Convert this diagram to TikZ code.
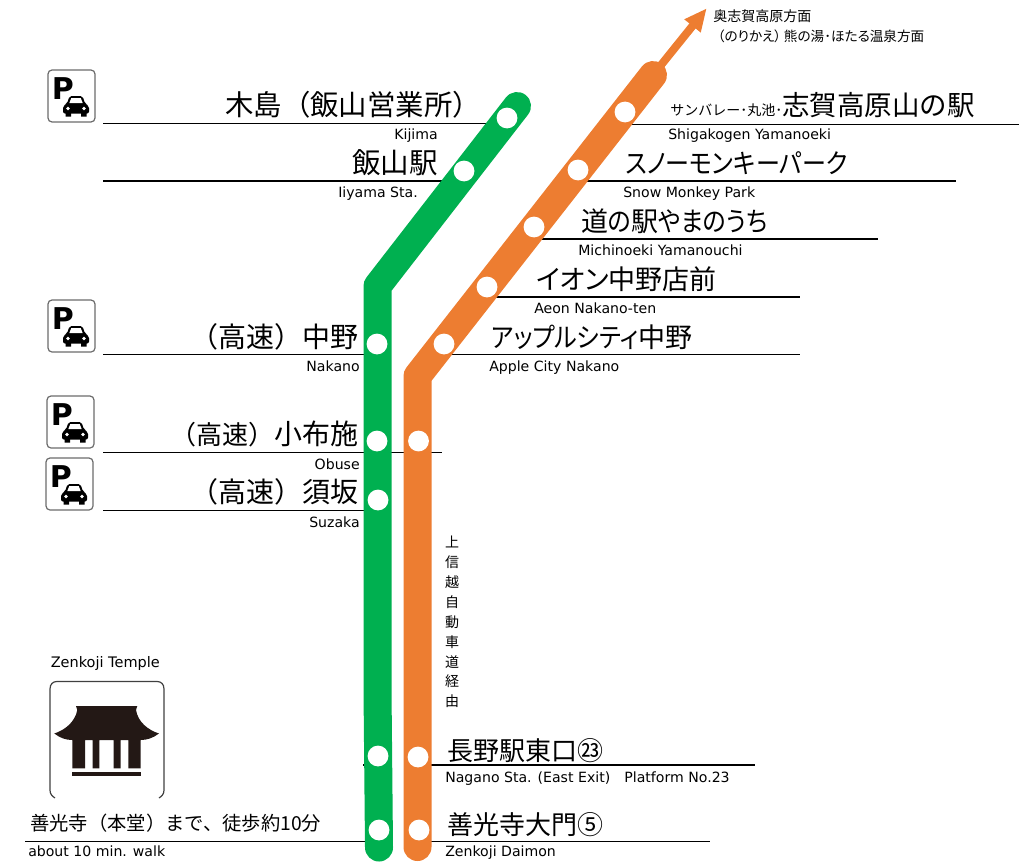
\documentclass[tikz,border=0pt]{standalone}
\usepackage{fontspec}
\setmainfont{DejaVu Sans}
\newfontfamily\jpf{Noto Sans CJK JP}
\newfontfamily\jpp[RawFeature=+palt]{Noto Sans CJK JP}
\newfontfamily\jpn[RawFeature=+palt,FakeStretch=0.89]{Noto Sans CJK JP}
\newfontfamily\latf{DejaVu Sans}
\newfontfamily\boldf{DejaVu Sans}
\usetikzlibrary{arrows.meta}
\newcommand{\pxfont}[1]{\fontsize{\dimexpr#1pt*3/4\relax}{\dimexpr#1pt*9/10\relax}\selectfont}
\definecolor{grn}{HTML}{00B050}
\definecolor{org}{HTML}{ED7D31}
\definecolor{tmp}{HTML}{231815}
\tikzset{
  x=0.75pt,y=-0.75pt,
  rule/.style={draw=black,line width=0.75pt},
  rulebold/.style={draw=black,line width=1.4pt},
  route/.style={line width=21pt,line cap=round,line join=round},
  stop/.style={circle,fill=white,draw=none,minimum size=15.6pt,inner sep=0pt},
  big/.style={inner sep=0pt,font={\jpf\pxfont{28}}},
  kana/.style={inner sep=0pt,font={\jpn\pxfont{27}}},
  mid/.style={inner sep=0pt,font={\jpf\pxfont{26}}},
  small/.style={inner sep=0pt,font={\jpf\pxfont{14}}},
  en/.style={inner sep=0pt,font={\latf\pxfont{14.1}}},
  pic border/.style={draw=gray!85!black,line width=0.9pt,fill=white,rounded corners=3pt},
  pics/parking/.style={code={
    \draw[pic border] (0,0) rectangle (47,52);
    \node[inner sep=0pt,anchor=base west,font={\boldf\bfseries\pxfont{30}}] at (3.5,29) {P};
    \fill[black,rounded corners=1.5pt] (15,43.5) -- (15,36) -- (19,33.5) -- (21.5,26) -- (34.5,26) -- (37,33.5) -- (41,36) -- (41,43.5) -- cycle;
    \fill[black] (17.5,42) rectangle (23,46.5) (33,42) rectangle (38.5,46.5);
    \fill[white] (21.3,33) -- (23.3,28) -- (32.7,28) -- (34.7,33) -- cycle;
    \fill[white] (20,38.5) circle (1.9) (36,38.5) circle (1.9);
  }},
}
\begin{document}
\begin{tikzpicture}
\useasboundingbox (0,0) rectangle (1019,867);

% rules
\draw[rule] (103,123.5) -- (500,123.5);
\draw[rule] (630,124) -- (1019,124);
\draw[rulebold] (103,181) -- (455,181);
\draw[rulebold] (575,181) -- (956,181);
\draw[rulebold] (530,239) -- (878,239);
\draw[rulebold] (485,297) -- (800,297);
\draw[rule] (103,354.5) -- (370,354.5);
\draw[rule] (440,354.5) -- (800,354.5);
\draw[rule] (103,452) -- (442,452);
\draw[rule] (103,510) -- (370,510);
\draw[rulebold] (363,765) -- (370,765);
\draw[rulebold] (420,765) -- (755,765);
\draw[rule] (25,841) -- (370,841);
\draw[rule] (420,841) -- (710,841);

% routes
\coordinate (gTop) at (517,106);
\coordinate (gBend) at (377.5,286);
\coordinate (gMid) at (377.5,690);
\coordinate (gEnd) at (379,847.5);
\coordinate (oTop) at (653,75);
\coordinate (oBend) at (417.5,376);
\coordinate (oEnd) at (417.5,847);
\coordinate (oTip) at (706.7,8.3);
\draw[org,line width=6pt,-{Triangle[length=17pt,width=14.5pt]}] (oTop) -- (oTip);
\draw[route,grn] (gTop) -- (gBend) -- (gMid) -- (gEnd);
\draw[route,org] (oTop) -- (oBend) -- (oEnd);

% stops
\node[stop] (g1) at (507,118) {};
\node[stop] (g2) at (464,171) {};
\node[stop] (g3) at (377,344) {};
\node[stop] (g4) at (377,441) {};
\node[stop] (g5) at (378,500) {};
\node[stop] (g6) at (378,756) {};
\node[stop] (g7) at (379,830) {};
\node[stop] (o1) at (625,112) {};
\node[stop] (o2) at (578,170) {};
\node[stop] (o3) at (534,227) {};
\node[stop] (o4) at (487,287) {};
\node[stop] (o5) at (444,344) {};
\node[stop] (o6) at (418.5,441) {};
\node[stop] (o7) at (418,757) {};
\node[stop] (o8) at (419,830) {};

% labels, green side
\node[inner sep=0pt,font={\jpf\pxfont{28.4}},anchor=base west] (tKijima) at (225,115) {木島（飯山営業所）};
\node[en,anchor=base east] (eKijima) at (438,139) {Kijima};
\node[inner sep=0pt,font={\jpf\pxfont{28.5}},anchor=base east] (tIiyama) at (438,173) {飯山駅};
\node[en,anchor=base west] (eIiyama) at (338,197) {Iiyama Sta.};
\node[big,anchor=base east] (tNakano) at (359,347) {（高速）中野};
\node[en,anchor=base east] (eNakano) at (360,371) {Nakano};
\node[anchor=base east,inner sep=0pt] (tObuse) at (359,444) {\jpf\pxfont{26}（高速）\pxfont{28}小布施};
\node[en,anchor=base east] (eObuse) at (360,469) {Obuse};
\node[big,anchor=base east] (tSuzaka) at (359,502) {（高速）須坂};
\node[en,anchor=base east] (eSuzaka) at (360,527) {Suzaka};

% labels, orange side
\node[small,anchor=base west] (tDir1) at (713,22) {奥志賀高原方面};
\node[anchor=base west,inner sep=0pt,font={\jpp\pxfont{13.6}}] (tDir2) at (717.5,41) {（のりかえ）\hspace{2pt}熊の湯･ほたる温泉方面};
\node[anchor=base west,inner sep=0pt] (tShiga) at (670,115) {\jpf\pxfont{14}サンバレー･丸池･\pxfont{27.5}志賀高原山の駅};
\node[en,anchor=base west] (eShiga) at (668,139) {Shigakogen Yamanoeki};
\node[kana,anchor=base west] (tSnow) at (625,173) {スノーモンキーパーク};
\node[en,anchor=base west] (eSnow) at (623,197) {Snow Monkey Park};
\node[kana,anchor=base west] (tMichi) at (581,231) {{\jpf 道}の{\jpf 駅}やまのうち};
\node[en,anchor=base west] (eMichi) at (578,255) {Michinoeki Yamanouchi};
\node[inner sep=0pt,font={\jpp\pxfont{27}},anchor=base west] (tAeon) at (536,289) {イオン中野店前};
\node[en,anchor=base west] (eAeon) at (534,313) {Aeon Nakano-ten};
\node[kana,anchor=base west] (tApple) at (491,347) {アップルシティ{\jpf 中野}};
\node[en,anchor=base west] (eApple) at (489,371) {Apple City Nakano};
\node[inner sep=0pt,align=center,font={\jpf\fontsize{10.5pt}{14.9pt}\selectfont},anchor=north] (tVia) at (452,536) {上\\信\\越\\自\\動\\車\\道\\経\\由};
\node[mid,anchor=base west] (tNagano) at (447,760) {長野駅東口㉓};
\node[en,anchor=base west] (eNagano) at (445,782) {Nagano Sta. (East Exit)\hspace{1em}Platform No.23};
\node[mid,anchor=base west] (tDaimon) at (447,834) {善光寺大門⑤};
\node[en,anchor=base west] (eDaimon) at (445,856) {Zenkoji Daimon};

% temple
\node[inner sep=0pt,font={\latf\pxfont{14.5}},anchor=base west] (eTemple) at (50.5,667) {Zenkoji Temple};
\draw[draw=black!75,line width=0.9pt] (55,798) .. controls (52,796) and (50,794) .. (50,790) -- (50,689) .. controls (50,684) and (53,681.5) .. (57,681.5) -- (157,681.5) .. controls (161,681.5) and (164,684) .. (164,689) -- (164,790) .. controls (164,794) and (162,796) .. (159,798);
\fill[tmp] (76,706) -- (137.3,706) -- (136,710) .. controls (138,722) and (148,730) .. (159,733.5) .. controls (153,738) and (147,740) .. (140.7,740) -- (140.7,768.3) -- (128.3,768.3) -- (128.3,740) -- (120.7,740) -- (120.7,768.3) -- (113.7,768.3) -- (113.7,740) -- (99.3,740) -- (99.3,768.3) -- (92.7,768.3) -- (92.7,740) -- (85,740) -- (85,768.3) -- (72.3,768.3) -- (72.3,740) .. controls (66,740) and (60,738) .. (54.3,733.5) .. controls (65,730) and (75,722) .. (77.3,710) -- cycle;
\fill[tmp] (72.3,772.3) rectangle (140.7,776);
\node[anchor=base west,inner sep=0pt,font={\jpf\pxfont{19.3}}] (tWalk) at (30,830) {善光寺（本堂）まで、徒歩約10分};
\node[en,anchor=base west] (eWalk) at (28,856) {about 10 min. walk};

% parking icons
\pic at (48,70) {parking};
\pic at (48,300) {parking};
\pic at (47,396) {parking};
\pic at (46,458) {parking};
\end{tikzpicture}
\end{document}
